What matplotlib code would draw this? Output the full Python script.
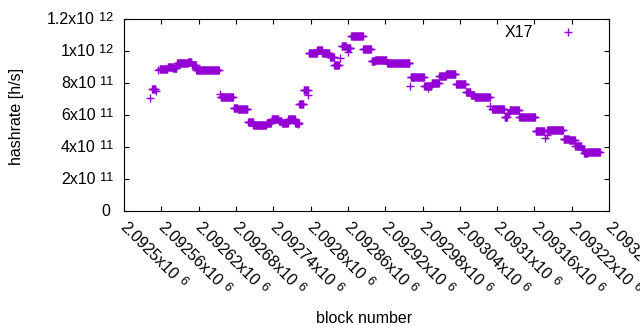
#!/usr/bin/env python3
"""Hashrate per block (X17), gnuplot-like look."""

import matplotlib

matplotlib.use("Agg")
import matplotlib.pyplot as plt
import numpy as np
from matplotlib.font_manager import FontProperties
from matplotlib.textpath import TextPath

# constant-rate runs of blocks: first block, last block, rate [1e11 h/s]
seg_start = [
    2092542, 2092545, 2092551, 2092555, 2092557, 2092570, 2092578, 2092585,
    2092603, 2092609, 2092616, 2092654, 2092655, 2092676, 2092683, 2092699,
    2092708, 2092729, 2092737, 2092749, 2092754, 2092764, 2092775, 2092779,
    2092782, 2092789, 2092796, 2092797, 2092811, 2092819, 2092831, 2092838,
    2092847, 2092850, 2092858, 2092860, 2092865, 2092885, 2092898, 2092904,
    2092923, 2092960, 2092961, 2092983, 2092989, 2092995, 2093007, 2093018,
    2093034, 2093050, 2093058, 2093064, 2093089, 2093092, 2093112, 2093117,
    2093120, 2093136, 2093162, 2093177, 2093180, 2093181, 2093207, 2093216,
    2093226, 2093236, 2093240, 2093246,
]
seg_end = [
    2092542, 2092550, 2092551, 2092555, 2092569, 2092577, 2092584, 2092602,
    2092608, 2092615, 2092652, 2092654, 2092675, 2092682, 2092698, 2092707,
    2092728, 2092736, 2092748, 2092753, 2092763, 2092774, 2092781, 2092779,
    2092788, 2092795, 2092796, 2092810, 2092818, 2092830, 2092837, 2092845,
    2092847, 2092857, 2092864, 2092860, 2092884, 2092897, 2092903, 2092922,
    2092959, 2092960, 2092982, 2092994, 2092989, 2093006, 2093017, 2093033,
    2093049, 2093057, 2093063, 2093088, 2093089, 2093111, 2093116, 2093119,
    2093135, 2093161, 2093176, 2093177, 2093180, 2093206, 2093215, 2093225,
    2093235, 2093239, 2093245, 2093265,
]
seg_rate = [
    7.05, 7.60, 7.48, 8.81, 8.85, 9.00, 8.92, 9.25,
    9.32, 9.11, 8.84, 7.31, 7.10, 6.44, 6.36, 5.54,
    5.40, 5.50, 5.77, 5.60, 5.48, 5.75, 5.52, 5.44,
    6.69, 7.54, 7.25, 9.86, 10.06, 9.86, 9.65, 9.13,
    9.54, 10.31, 10.19, 9.96, 10.92, 10.11, 9.37, 9.43,
    9.23, 7.83, 8.36, 7.79, 7.67, 8.00, 8.46, 8.56,
    7.94, 7.44, 7.25, 7.10, 6.56, 6.36, 5.86, 6.10,
    6.29, 5.86, 4.98, 4.54, 4.75, 5.06, 4.50, 4.42,
    4.08, 3.85, 3.60, 3.67,
]

x_ticks = [2092500, 2092560, 2092620, 2092680, 2092740, 2092800, 2092860,
           2092920, 2092980, 2093040, 2093100, 2093160, 2093220, 2093280]
x_tick_base = ["2.0925x10", "2.09256x10", "2.09262x10", "2.09268x10", "2.09274x10",
               "2.0928x10", "2.09286x10", "2.09292x10", "2.09298x10", "2.09304x10",
               "2.0931x10", "2.09316x10", "2.09322x10", "2.09328x10"]
x_tick_exp = "6"
y_ticks = [0, 2e11, 4e11, 6e11, 8e11, 1e12, 1.2e12]
y_tick_base = ["0", "2x10", "4x10", "6x10", "8x10", "1x10", "1.2x10"]
y_tick_exp = ["", "11", "11", "11", "11", "12", "12"]

FAMILY = "Liberation Sans"
FS = 11.5
SUP_FS = 9.2
PX = 0.72  # points per pixel at dpi 100
COLOR = "#9400d3"


def text_width(s: str, size: float) -> float:
    path = TextPath((0, 0), s, size=size, prop=FontProperties(family=FAMILY))
    return path.get_extents().x1


def main() -> None:
    plt.rcParams.update({"font.family": FAMILY, "font.size": FS})

    blocks = np.concatenate([np.arange(s, e + 1) for s, e in zip(seg_start, seg_end)])
    rates = np.concatenate([np.full(e - s + 1, r * 1e11) for s, e, r in zip(seg_start, seg_end, seg_rate)])

    fig = plt.figure(figsize=(6.4, 3.3), dpi=100)
    ax = fig.add_axes([124.2 / 640, 1 - 211 / 330, (609 - 124.2) / 640, 192 / 330])
    ax.plot(blocks, rates, linestyle="none", marker="+", markersize=5.8,
            markeredgewidth=1.0, color=COLOR)

    ax.set_xlim(x_ticks[0], x_ticks[-1])
    ax.set_ylim(y_ticks[0], y_ticks[-1])
    ax.set_xticks(x_ticks)
    ax.set_yticks(y_ticks)
    ax.set_xticklabels([])
    ax.set_yticklabels([])
    ax.tick_params(direction="in", length=3.6, width=0.8, top=True, right=True)
    for sp in ax.spines.values():
        sp.set_linewidth(0.8)

    # y labels: base + raised exponent
    for val, base, exp in zip(y_ticks, y_tick_base, y_tick_exp):
        if exp:
            w_exp = text_width(exp, SUP_FS)
            ax.annotate(exp, xy=(0, val), xycoords=("axes fraction", "data"),
                        xytext=(-11 * PX, -1.7 * PX), textcoords="offset points",
                        ha="right", va="baseline", fontsize=SUP_FS)
            dx = -11 * PX - w_exp - 3.4
        else:
            dx = -14 * PX
        ax.annotate(base, xy=(0, val), xycoords=("axes fraction", "data"),
                    xytext=(dx, -5.5 * PX), textcoords="offset points",
                    ha="right", va="baseline", fontsize=FS)

    # x labels rotated -45 deg
    d = np.array([0.7071, -0.7071])
    up = np.array([0.7071, 0.7071])
    base_off = np.array([-4.5 * PX, -17.5 * PX])
    for val, base in zip(x_ticks, x_tick_base):
        w = text_width(base, FS)
        ax.annotate(base, xy=(val, 0), xycoords=("data", "axes fraction"),
                    xytext=tuple(base_off), textcoords="offset points",
                    rotation=-45, rotation_mode="anchor", ha="left", va="baseline",
                    fontsize=FS, annotation_clip=False)
        eoff = base_off + (w + 3.4) * d + 4.5 * PX * up
        ax.annotate(x_tick_exp, xy=(val, 0), xycoords=("data", "axes fraction"),
                    xytext=tuple(eoff), textcoords="offset points",
                    rotation=-45, rotation_mode="anchor", ha="left", va="baseline",
                    fontsize=SUP_FS, annotation_clip=False)

    # key
    ax.text(0.8431, 0.9047, "X17", transform=ax.transAxes, ha="right", va="baseline")
    ax.plot([0.9154], [0.9307], transform=ax.transAxes, linestyle="none", marker="+",
            markersize=5.8, markeredgewidth=1.0, color=COLOR)

    fig.text(17 / 640, 1 - 116 / 330, "hashrate [h/s]", rotation=90, ha="center", va="center")
    fig.text(364 / 640, 1 - 323 / 330, "block number", ha="center", va="baseline")

    fig.savefig("out.png", dpi=100)
    plt.close(fig)


if __name__ == "__main__":
    main()
